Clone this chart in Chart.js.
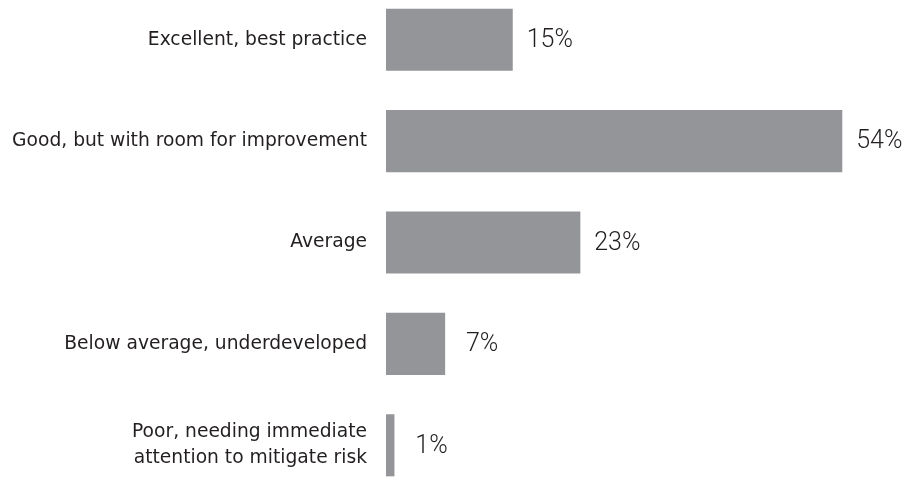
<!DOCTYPE html>
<html lang="en">
<head>
<meta charset="UTF-8">
<title>Rating distribution</title>
<script src="https://cdn.jsdelivr.net/npm/chart.js@4"></script>
<style>
html, body {
margin: 0;
padding: 0;
background: #ffffff;
overflow: hidden;
}
#ratingChart {
position: absolute;
left: 0;
top: -11px;
}
</style>
</head>
<body>
<canvas id="ratingChart" width="924" height="507"></canvas>
<script>
// answers, top to bottom as in the figure
const categories = [
  "Excellent, best practice",
  "Good, but with room for improvement",
  "Average",
  "Below average, underdeveloped",
  ["Poor, needing immediate", "attention to mitigate risk"]
];
const shares = [15, 54, 23, 7, 1];

// value labels sit to the right of each bar
const valueLabels = {
  id: 'valueLabels',
  afterDatasetsDraw(chart) {
    const ctx = chart.ctx;
    const meta = chart.getDatasetMeta(0);
    ctx.save();
    ctx.font = '300 25px Roboto';
    ctx.fillStyle = '#231f20';
    ctx.textAlign = 'center';
    ctx.textBaseline = 'middle';
    meta.data.forEach((bar, i) => {
      ctx.fillText(shares[i] + '%', bar.x + 37, bar.y + 1);
    });
    ctx.restore();
  }
};

const ctx = document.getElementById('ratingChart').getContext('2d');
new Chart(ctx, {
  type: 'bar',
  data: {
    labels: categories,
    datasets: [{
      data: shares,
      backgroundColor: '#949599',
      borderWidth: 0,
      barPercentage: 0.612,
      categoryPercentage: 1.0
    }]
  },
  options: {
    indexAxis: 'y',
    responsive: false,
    animation: false,
    layout: { padding: { left: 0, right: 31, top: 0, bottom: 0 } },
    plugins: {
      legend: { display: false },
      tooltip: { enabled: false }
    },
    scales: {
      x: {
        display: false,
        min: 0,
        max: 60
      },
      y: {
        grid: { display: false, drawTicks: false },
        border: { display: false },
        afterFit(scale) {
          // fixed label column, no extra room above/below the bars
          scale.width = 386;
          scale.paddingTop = 0;
          scale.paddingBottom = 0;
        },
        ticks: {
          padding: 19,
          color: '#231f20',
          font: { family: '"DejaVu Sans"', size: 18.7, lineHeight: 1.4 }
        }
      }
    }
  },
  plugins: [valueLabels]
});
</script>
</body>
</html>
